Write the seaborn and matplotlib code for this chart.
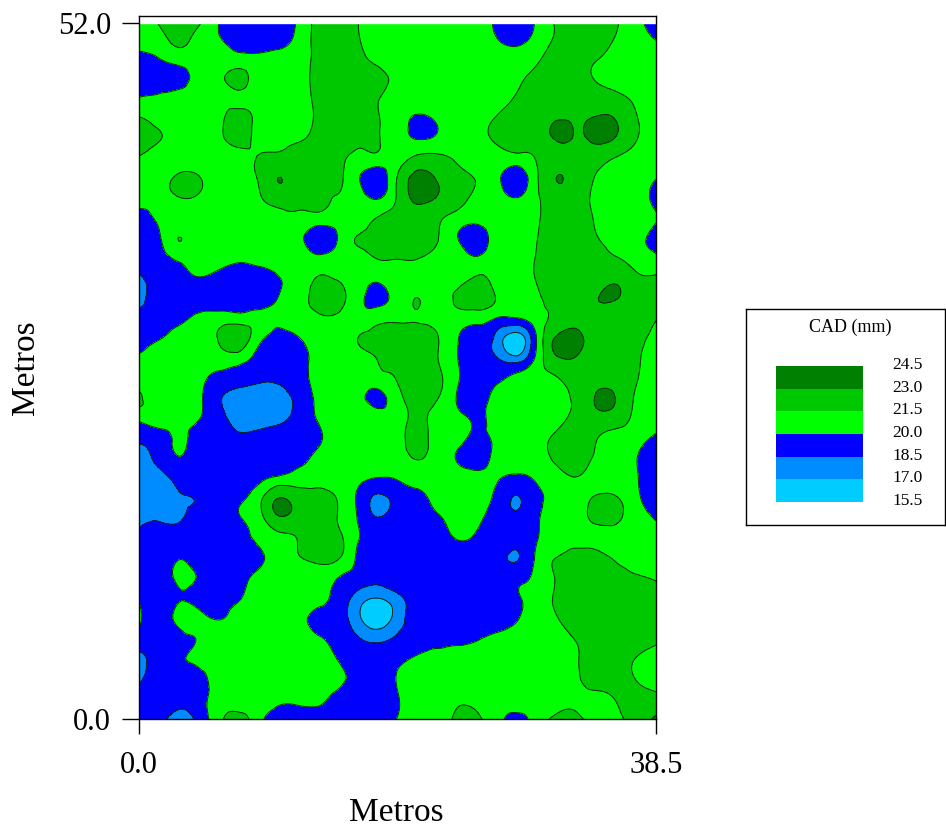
import numpy as np
import pandas as pd
import matplotlib
matplotlib.use("Agg")
import matplotlib.pyplot as plt
import matplotlib.tri as mtri
from matplotlib.colors import ListedColormap, BoundaryNorm
import seaborn as sns

# CAD values, one row per 20 px, top of the map first
cad_rows = [
    [20.7,21.7,22.0,21.9,20.0,19.2,19.0,19.2,20.2,22.0,22.3,21.5,20.8,20.7,19.8,20.7,20.7,20.5,19.7,19.0,20.2,21.7,22.2,22.2,21.7,20.4,19.2],
    [20.7,21.1,21.8,21.1,20.1,19.4,19.2,19.4,20.4,22.0,22.4,21.6,20.9,20.7,20.7,20.7,20.7,20.7,20.0,19.6,20.4,21.7,22.3,22.2,21.4,20.6,19.9],
    [19.5,20.0,20.7,20.7,20.7,20.5,20.3,20.5,20.8,21.9,22.5,22.0,21.0,20.7,20.7,20.7,20.7,20.7,20.7,20.6,21.2,22.2,22.0,21.6,20.9,20.7,20.7],
    [19.0,19.1,19.5,20.3,21.1,21.9,20.9,20.8,21.0,21.9,22.4,22.5,22.0,21.1,20.7,20.7,20.7,20.8,21.0,21.3,21.9,22.4,22.1,21.4,20.9,20.7,20.7],
    [20.05,20.3,20.5,20.7,21.0,21.2,20.8,20.7,21.0,21.8,22.4,22.3,21.6,20.9,20.7,20.7,20.8,21.0,21.1,21.6,22.2,22.5,22.6,22.2,21.9,21.2,20.8],
    [21.6,21.0,20.7,20.7,21.1,22.2,21.1,20.8,21.0,21.7,22.3,22.5,21.6,20.7,19.8,20.2,20.8,21.1,21.6,22.2,22.5,22.9,22.9,23.1,22.9,21.6,20.9],
    [22.1,21.6,20.9,20.7,21.1,22.2,21.0,20.9,21.3,22.0,22.3,22.0,21.6,20.7,19.9,20.2,20.7,21.0,21.8,22.3,22.2,23.15,22.9,23.3,22.9,21.6,20.9],
    [21.4,20.8,20.7,20.7,20.8,20.8,21.6,22.0,22.2,22.3,21.9,21.0,21.0,20.9,21.9,21.9,21.2,20.7,20.7,20.9,21.6,22.2,22.3,22.1,21.4,20.9,20.7],
    [20.7,20.9,21.8,21.6,20.7,20.7,21.6,23.01,22.3,22.2,21.8,20.2,19.0,21.6,23.4,22.9,22.2,21.4,20.3,19.1,21.3,23.02,22.3,21.4,20.8,20.7,20.05],
    [20.7,20.7,21.4,21.3,20.7,20.7,21.3,22.2,22.1,21.9,21.4,20.7,19.9,21.7,23.3,22.9,22.2,21.1,20.5,20.05,21.3,22.2,22.1,21.2,20.8,20.5,19.6],
    [19.3,20.2,20.7,20.7,20.7,20.7,20.7,20.9,21.0,20.9,20.7,20.7,21.6,22.3,22.4,21.8,20.9,20.4,20.7,20.7,21.3,22.2,22.4,21.3,20.7,20.6,20.1],
    [19.0,19.8,21.52,20.7,20.7,20.7,20.7,20.7,20.5,19.0,20.05,21.6,22.3,22.5,22.4,21.6,20.05,19.2,20.5,20.7,21.45,22.3,22.5,21.6,20.9,20.4,19.3],
    [19.0,19.3,20.3,20.7,20.6,20.2,20.4,20.7,20.7,20.4,20.7,20.9,21.55,21.55,21.55,20.9,20.7,20.2,20.7,20.7,21.6,22.3,22.6,22.1,21.6,20.9,20.4],
    [18.3,19.0,19.3,19.9,19.4,19.2,19.2,19.9,20.6,21.6,21.4,20.7,20.3,20.7,20.7,20.7,20.9,21.7,20.9,20.7,21.6,22.4,22.6,22.4,22.7,21.8,21.7],
    [18.1,19.0,19.1,19.2,19.1,19.0,19.0,20.05,20.9,22.1,22.0,20.5,19.6,20.5,21.52,20.8,21.8,22.3,21.4,20.7,21.2,22.0,22.5,22.95,23.05,22.3,22.3],
    [19.0,19.1,19.6,20.4,20.7,20.7,20.7,20.3,20.7,21.2,21.2,20.7,21.0,21.2,21.4,20.9,20.7,20.6,19.9,19.9,20.9,21.9,22.4,22.4,22.3,22.3,21.6],
    [19.3,19.9,20.6,20.7,21.6,22.5,20.5,19.5,19.9,20.7,20.7,21.5,21.9,22.2,22.4,21.6,20.1,19.2,18.0,16.0,20.05,23.2,23.4,22.4,22.4,22.0,21.0],
    [20.2,20.7,20.7,20.7,20.8,20.7,19.5,19.0,19.4,20.5,20.7,21.0,21.55,22.0,22.2,21.55,20.05,19.0,18.6,17.6,20.4,22.8,22.9,22.4,22.2,21.7,20.9],
    [20.7,20.7,20.7,20.4,19.5,19.1,18.7,18.7,19.4,20.5,20.7,20.7,20.9,21.6,22.2,21.9,20.2,19.3,19.7,20.5,20.9,21.4,22.3,22.6,22.5,21.6,20.9],
    [21.8,20.7,20.7,20.3,18.7,18.0,17.9,18.0,18.9,20.3,20.7,20.4,19.6,21.0,22.0,21.55,19.9,19.1,20.6,20.7,20.7,21.1,21.8,23.1,22.95,21.3,20.9],
    [20.3,20.7,20.4,20.05,19.0,18.1,18.0,18.2,19.0,20.1,20.7,20.7,20.7,20.9,21.8,21.0,20.5,19.8,20.5,20.7,20.7,21.0,22.0,22.5,22.3,21.1,20.7],
    [18.8,19.3,20.2,19.4,19.0,18.7,18.9,19.0,19.2,19.8,20.6,20.7,20.7,20.9,22.0,20.9,20.5,19.6,20.3,20.7,20.9,21.9,22.5,21.55,20.9,20.5,19.7],
    [18.1,18.9,19.9,19.2,19.0,19.0,19.2,19.0,19.6,20.2,20.7,20.7,20.7,20.9,21.55,20.9,19.9,19.3,20.4,20.7,20.8,21.8,22.2,21.3,20.7,20.05,19.1],
    [17.9,18.0,18.9,19.1,19.1,19.1,19.6,20.4,20.7,20.7,20.7,20.3,19.9,20.1,20.6,20.7,20.7,20.6,20.15,19.6,20.2,20.8,21.4,20.9,20.7,20.1,19.2],
    [17.9,18.1,18.4,18.55,19.1,19.8,21.0,23.05,22.4,22.3,21.4,19.8,18.2,19.0,19.6,20.4,20.7,20.7,19.6,18.4,19.6,20.2,20.7,21.75,21.65,20.3,19.3],
    [18.3,18.4,18.4,19.0,19.2,19.9,20.9,22.7,22.4,22.4,21.45,19.95,18.6,19.1,19.3,19.8,20.4,20.2,19.4,18.9,19.8,20.5,20.7,21.9,21.8,20.7,19.9],
    [18.7,19.1,19.2,19.2,19.2,19.4,20.3,21.0,21.55,22.4,22.0,20.1,19.3,19.1,19.1,19.3,20.05,19.8,19.2,19.0,19.9,20.7,20.9,20.9,20.8,20.7,20.7],
    [19.0,19.0,19.95,19.2,19.1,19.1,19.7,20.7,21.4,21.8,21.6,19.8,19.0,19.0,19.1,19.1,19.1,19.1,19.0,18.42,20.3,21.55,22.1,22.2,21.3,20.9,20.7],
    [19.0,19.1,20.3,19.85,19.2,19.5,20.4,20.7,20.7,20.8,19.95,19.3,18.9,19.4,19.0,19.0,19.0,19.1,19.1,19.6,20.4,21.6,22.3,22.4,22.1,21.7,21.4],
    [19.85,19.1,19.9,19.4,19.4,19.9,20.6,20.7,20.7,20.4,19.5,17.8,16.9,18.0,19.3,19.1,19.0,19.0,19.0,19.8,20.7,21.7,22.4,22.5,22.4,22.3,22.2],
    [20.25,19.4,20.3,20.5,19.95,20.6,20.7,20.7,20.5,19.6,19.3,17.4,16.1,17.7,19.3,19.1,19.1,19.2,19.1,19.9,20.7,21.4,22.3,22.5,22.5,22.5,22.4],
    [19.3,19.1,19.5,20.1,20.7,20.7,20.7,20.7,20.7,20.2,19.5,18.66,18.1,18.84,19.3,19.4,19.6,19.9,20.4,20.7,20.7,21.0,21.6,22.3,22.4,22.2,21.8],
    [18.2,18.9,19.7,20.4,20.7,20.7,20.7,20.7,20.7,20.7,19.95,19.3,19.3,19.7,20.2,20.6,20.7,20.7,20.7,20.7,20.7,20.9,21.4,22.2,22.1,21.45,20.9],
    [18.2,19.1,19.0,19.2,20.7,20.7,20.7,20.7,20.7,20.6,20.3,19.4,19.0,20.1,20.7,20.7,20.7,20.7,20.7,20.7,20.7,20.7,21.3,22.2,22.2,21.45,20.8],
    [19.4,19.2,18.8,19.2,20.7,20.7,20.7,20.3,20.3,20.3,19.6,19.0,19.0,19.9,20.7,20.8,21.2,21.1,20.7,20.7,20.7,20.9,21.2,20.9,21.6,22.1,22.0],
    [19.2,19.0,17.9,19.0,21.0,22.2,20.5,19.3,19.2,19.2,19.2,19.2,19.3,20.05,20.6,20.7,21.8,21.7,20.6,19.5,20.7,21.8,21.8,20.9,21.1,22.2,23.2],
]
niveles = [15.5, 17.0, 18.5, 20.0, 21.5, 23.0, 24.5]
colores = ["#00CCFF", "#008CFF", "#0000FF", "#00FF00", "#00C800", "#008000"]
etiquetas = ["24.5", "23.0", "21.5", "20.0", "18.5", "17.0", "15.5"]
titulo_leyenda = "CAD (mm)"
x_ticks = [0.0, 38.5]
y_ticks = [0.0, 52.0]

W, H = 946, 834


def caja(fig, x0, y0, x1, y1):
    # ejes a partir de pixeles de la imagen
    return fig.add_axes([x0 / W, 1 - y1 / H, (x1 - x0) / W, (y1 - y0) / H])


sns.set_style("white")
plt.rcParams["font.family"] = ["Liberation Serif", "DejaVu Serif"]

fig = plt.figure(figsize=(W / 100, H / 100), dpi=100)
ax = caja(fig, 139, 16, 656, 719)

x_metros = np.linspace(0, 38.5, 27)
y_metros = np.linspace(52.37, 0, 36)
xx, yy = np.meshgrid(x_metros, y_metros)
z = np.array(cad_rows)
cmap = ListedColormap(colores)
norm = BoundaryNorm(niveles, cmap.N)

# tricontour con el refinador de matplotlib para curvas suaves
malla = mtri.Triangulation(xx.ravel(), yy.ravel())
refinador = mtri.UniformTriRefiner(malla)
malla_fina, z_fina = refinador.refine_field(z.ravel(), subdiv=3)
ax.tricontourf(malla_fina, z_fina, levels=niveles, cmap=cmap, norm=norm, extend="both")
ax.tricontour(malla_fina, z_fina, levels=niveles, colors="#0c2a0c", linewidths=0.7)

y_top = 52 * (719 - 16) / (719 - 23)
ax.set_xlim(0, 38.5)
ax.set_ylim(0, y_top)
ax.axhspan(52, y_top, color="white", zorder=3)
ax.set_xticks(x_ticks, labels=[f"{v:.1f}" for v in x_ticks])
ax.set_yticks(y_ticks, labels=[f"{v:.1f}" for v in y_ticks])
ax.tick_params(axis="x", length=11, width=1, color="black", pad=12, labelsize=22, bottom=True, labelcolor="black")
ax.tick_params(axis="y", length=12, width=1, color="black", pad=8, labelsize=22, left=True, labelcolor="black")
ax.set_xlabel("Metros", fontsize=24, color="black")
ax.set_ylabel("Metros", fontsize=24, color="black")
ax.xaxis.set_label_coords((396 - 139) / 517, -(813 - 719) / 703, transform=ax.transAxes)
ax.yaxis.set_label_coords((26 - 139) / 517, (719 - 368) / 703, transform=ax.transAxes)
ax.xaxis.label.set_va("center")
ax.yaxis.label.set_va("center")
for lado in ax.spines.values():
    lado.set_color("black")
    lado.set_linewidth(1)
    lado.set_zorder(5)

# leyenda: recuadro, franjas con heatmap y textos
cuadro = caja(fig, 746, 309, 945, 525)
cuadro.set_xlim(746, 945)
cuadro.set_ylim(525, 309)
cuadro.set_xticks([])
cuadro.set_yticks([])
for lado in cuadro.spines.values():
    lado.set_color("black")
    lado.set_linewidth(1)
cuadro.text(850, 327, titulo_leyenda, ha="center", va="center", fontsize=13, color="black")
paso = (502 - 366) / 6
for i, txt in enumerate(etiquetas):
    cuadro.text(892, 366 + i * paso - 1, txt, ha="left", va="center", fontsize=12.5, color="black")

franjas = caja(fig, 776, 366, 863, 502)
tabla = pd.DataFrame({"v": list(range(len(colores) - 1, -1, -1))})
sns.heatmap(tabla, ax=franjas, cmap=cmap, vmin=-0.5, vmax=len(colores) - 0.5, cbar=False,
            xticklabels=False, yticklabels=False, linewidths=0)

fig.savefig("out.png", dpi=100)
plt.close(fig)
